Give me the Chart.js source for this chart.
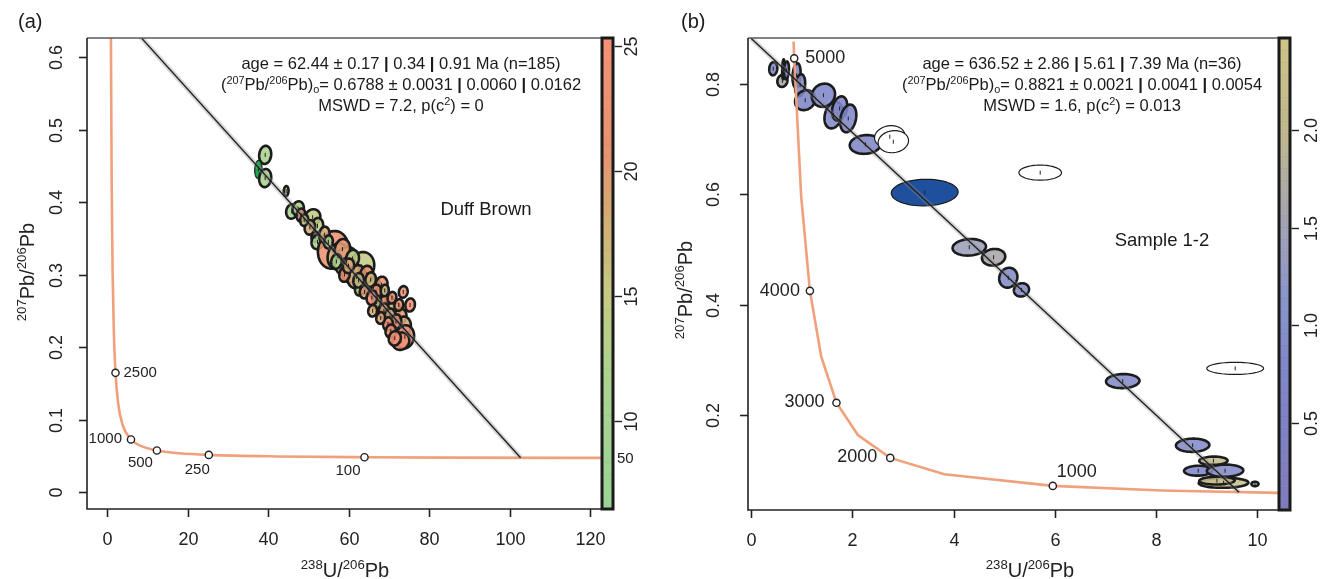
<!DOCTYPE html>
<html>
<head>
<meta charset="utf-8">
<script src="https://cdn.jsdelivr.net/npm/chart.js@4.4.0/dist/chart.umd.min.js"></script>
<style>
  body { margin: 0; background: #fff; }
  #wrap { position: relative; width: 1336px; height: 579px; }
  canvas { position: absolute; top: 0; }
</style>
</head>
<body>
<div id="wrap">
  <canvas id="left" width="668" height="579" style="left:0"></canvas>
  <canvas id="right" width="668" height="579" style="left:668px"></canvas>
</div>
<script>
// ---------- panel (a): Duff Brown ----------
const aConcX = [0.960, 1.163, 1.387, 1.687, 2.111, 2.749, 3.817, 5.959, 8.105, 12.40, 17.92, 25.29, 42.48, 63.97, 85.46, 128.4];
const aConcY = [0.6396, 0.4252, 0.3060, 0.2228, 0.1644, 0.1231, 0.0937, 0.0725, 0.0643, 0.0573, 0.0535, 0.0512, 0.0491, 0.0480, 0.0475, 0.0470];
const aAgeLabels = ['2500', '1000', '500', '250', '100'];
const aAgeX = [2.111, 5.959, 12.40, 25.29, 63.97];
const aAgeY = [0.1644, 0.0725, 0.0573, 0.0512, 0.0480];
const aEdgeLabel = '50';
const aEdgeY = 0.0470;
const aDiscX = [0, 102.75];
const aDiscY = [0.6788, 0.04728];

const aX   = [39.3, 37.6, 39.3, 44.5, 45.9, 47.5, 48.2, 51.1, 52.3, 50.4, 51.7, 52.3, 56.2, 57.4, 59.5, 63.3, 60.5, 62.0, 63.7, 66.2, 68.2, 73.6, 75.3, 67.8, 69.5, 71.1, 72.8, 73.6, 72.0, 74.0, 73.0, 58.5, 61.0, 64.5, 65.5, 66.8, 68.8, 70.3, 70.8, 71.8, 69.8, 54.0, 55.0, 49.0, 62.8, 59.0, 67.0, 72.5, 57.0, 60.0, 62.5, 64.0, 65.8, 68.0, 70.5, 71.5, 66.0, 69.0];
const aY   = [0.465, 0.445, 0.433, 0.415, 0.387, 0.391, 0.382, 0.379, 0.367, 0.365, 0.352, 0.345, 0.334, 0.325, 0.318, 0.311, 0.305, 0.297, 0.288, 0.283, 0.286, 0.276, 0.258, 0.269, 0.260, 0.251, 0.242, 0.228, 0.223, 0.214, 0.208, 0.335, 0.322, 0.300, 0.293, 0.276, 0.250, 0.242, 0.268, 0.235, 0.232, 0.355, 0.345, 0.375, 0.280, 0.300, 0.262, 0.258, 0.318, 0.312, 0.292, 0.276, 0.268, 0.240, 0.222, 0.212, 0.250, 0.278];
const aSX  = [1.5, 0.9, 1.5, 0.6, 1.4, 1.4, 1.1, 1.9, 1.4, 1.3, 0.9, 1.5, 3.8, 2.6, 2.9, 3.1, 2.1, 2.3, 2.1, 1.7, 1.5, 1.1, 1.2, 1.7, 1.9, 1.7, 1.6, 1.9, 1.5, 2.3, 2.1, 1.9, 1.6, 1.6, 1.3, 1.4, 1.3, 1.4, 1.1, 1.3, 1.2, 1.3, 1.1, 1.0, 1.2, 1.3, 1.1, 1.1, 1.3, 1.4, 1.3, 1.2, 1.3, 1.1, 1.3, 1.5, 1.1, 1.0];
const aSY  = [0.0125, 0.0125, 0.0125, 0.007, 0.010, 0.010, 0.009, 0.011, 0.011, 0.010, 0.007, 0.010, 0.026, 0.018, 0.020, 0.020, 0.016, 0.016, 0.014, 0.012, 0.011, 0.008, 0.009, 0.012, 0.013, 0.012, 0.011, 0.014, 0.011, 0.016, 0.012, 0.014, 0.012, 0.012, 0.010, 0.010, 0.010, 0.011, 0.008, 0.010, 0.009, 0.011, 0.009, 0.008, 0.009, 0.010, 0.009, 0.008, 0.010, 0.010, 0.010, 0.009, 0.010, 0.008, 0.009, 0.010, 0.008, 0.008];
const aRho = [0.1, 0.1, 0.1, 0.1, 0.1, 0.1, 0.1, 0.1, 0.1, 0.1, 0.1, 0.1, 0.1, 0.1, 0.1, 0.1, 0.1, 0.1, 0.1, 0.1, 0.1, 0.1, 0.1, 0.1, 0.1, 0.1, 0.1, 0.1, 0.1, 0.1, 0.1, 0.1, 0.1, 0.1, 0.1, 0.1, 0.1, 0.1, 0.1, 0.1, 0.1, 0.1, 0.1, 0.1, 0.1, 0.1, 0.1, 0.1, 0.1, 0.1, 0.1, 0.1, 0.1, 0.1, 0.1, 0.1, 0.1, 0.1];
const aZ   = [12, 4, 11, 13, 10, 12, 21, 15, 14, 18, 22, 10, 22, 17, 16, 15, 19, 18, 20, 13, 22, 23, 24, 19, 21, 16, 20, 18, 23, 25, 24, 20, 14, 21, 17, 23, 20, 18, 22, 22, 24, 18, 12, 16, 15, 22, 16, 21, 12, 19, 16, 20, 24, 19, 22, 25, 18, 16];

const aXTicks = [0, 20, 40, 60, 80, 100, 120];
const aYTicks = [0, 0.1, 0.2, 0.3, 0.4, 0.5, 0.6];
const aYTickLabels = ['0', '0.1', '0.2', '0.3', '0.4', '0.5', '0.6'];
const aZTicks = [10, 15, 20, 25];
const aZTickLabels = ['10', '15', '20', '25'];
const aText = ['age = 62.44 ± 0.17 | 0.34 | 0.91 Ma (n=185)',
               '(^{207}Pb/^{206}Pb)_{o}= 0.6788 ± 0.0031 | 0.0060 | 0.0162',
               'MSWD = 7.2, p(c^{2}) = 0'];
const aName = 'Duff Brown';

// ---------- panel (b): Sample 1-2 ----------
const bConcX = [0.8411, 0.8533, 0.9903, 1.1630, 1.3870, 1.6874, 2.1109, 2.7492, 3.8171, 5.959, 8.105, 10.45];
const bConcY = [0.8760, 0.8457, 0.5970, 0.4252, 0.3060, 0.2228, 0.1644, 0.1231, 0.0937, 0.0725, 0.0643, 0.0597];
const bAgeLabels = ['5000', '4000', '3000', '2000', '1000'];
const bAgeX = [0.8533, 1.1630, 1.6874, 2.7492, 5.959];
const bAgeY = [0.8457, 0.4252, 0.2228, 0.1231, 0.0725];
const bDiscX = [0, 9.636];
const bDiscY = [0.8821, 0.0610];

const bX   = [0.44, 0.62, 0.64, 0.70, 0.90, 0.97, 1.07, 1.43, 1.63, 1.75, 1.92, 2.26, 2.74, 2.81, 3.43, 5.71, 4.31, 4.79, 5.08, 5.34, 9.56, 7.34, 8.72, 9.13, 8.83, 9.36, 9.33, 9.20, 9.95];
const bY   = [0.827, 0.805, 0.826, 0.824, 0.815, 0.797, 0.770, 0.779, 0.743, 0.755, 0.737, 0.690, 0.704, 0.695, 0.603, 0.639, 0.504, 0.486, 0.449, 0.427, 0.285, 0.262, 0.146, 0.118, 0.100, 0.100, 0.078, 0.082, 0.076];
const bSX  = [0.08, 0.10, 0.025, 0.05, 0.08, 0.10, 0.20, 0.23, 0.18, 0.15, 0.16, 0.31, 0.30, 0.30, 0.66, 0.42, 0.33, 0.23, 0.18, 0.15, 0.56, 0.33, 0.33, 0.28, 0.28, 0.36, 0.49, 0.35, 0.07];
const bSY  = [0.012, 0.011, 0.018, 0.016, 0.022, 0.020, 0.018, 0.021, 0.024, 0.022, 0.025, 0.017, 0.020, 0.020, 0.024, 0.0136, 0.015, 0.015, 0.018, 0.012, 0.011, 0.0127, 0.012, 0.0075, 0.009, 0.011, 0.009, 0.007, 0.004];
const bRho = [0.1, 0.1, 0.2, 0.2, 0.2, 0.2, 0.15, 0.1, 0.25, 0.25, 0.25, 0.1, 0.1, 0.1, 0.05, 0.0, 0.1, 0.1, 0.1, 0.1, 0.0, 0.05, 0.05, 0.05, 0.05, 0.05, 0.05, 0.05, 0.0];
const bZ   = [0.8, 1.6, 1.0, 0.7, 0.8, 0.9, 0.8, 0.8, 0.9, 0.85, 0.8, 0.8, null, null, 0.0, null, 1.4, 1.6, 0.9, 0.9, null, 0.9, 0.9, 2.1, 0.8, 0.9, 2.3, 2.2, 2.2];

const bXTicks = [0, 2, 4, 6, 8, 10];
const bYTicks = [0.2, 0.4, 0.6, 0.8];
const bYTickLabels = ['0.2', '0.4', '0.6', '0.8'];
const bZTicks = [0.5, 1.0, 1.5, 2.0];
const bZTickLabels = ['0.5', '1.0', '1.5', '2.0'];
const bText = ['age = 636.52 ± 2.86 | 5.61 | 7.39 Ma (n=36)',
               '(^{207}Pb/^{206}Pb)_{o}= 0.8821 ± 0.0021 | 0.0041 | 0.0054',
               'MSWD = 1.6, p(c^{2}) = 0.013'];
const bName = 'Sample 1-2';

// ---------- helpers ----------
const FONT = '"Liberation Sans", Arial, Helvetica, sans-serif';
const toXY = (xs, ys) => xs.map((v, i) => ({x: v, y: ys[i]}));

function cmap(stops, v) {
  if (v <= stops[0][0]) return stops[0][1];
  for (let i = 1; i < stops.length; i++) {
    if (v <= stops[i][0]) {
      const f = (v - stops[i-1][0]) / (stops[i][0] - stops[i-1][0]);
      return stops[i-1][1].map((c, k) => Math.round(c + f * (stops[i][1][k] - c)));
    }
  }
  return stops[stops.length - 1][1];
}
const rgb = (c, a) => `rgba(${c[0]},${c[1]},${c[2]},${a})`;

function parse(str) {
  const out = [];
  let i = 0, buf = '';
  while (i < str.length) {
    const c = str[i];
    if ((c === '^' || c === '_') && str[i+1] === '{') {
      if (buf) out.push([buf, 0]);
      buf = '';
      const j = str.indexOf('}', i);
      out.push([str.slice(i + 2, j), c === '^' ? 1 : -1]);
      i = j + 1;
    } else if (c === '|') {
      if (buf) out.push([buf, 0]);
      buf = '';
      out.push(['|', 2]);
      i++;
    } else { buf += c; i++; }
  }
  if (buf) out.push([buf, 0]);
  return out;
}

function fontFor(m, size) {
  if (m === 1 || m === -1) return `${(size * 0.66).toFixed(1)}px ${FONT}`;
  if (m === 2) return `bold ${size}px ${FONT}`;
  return `${size}px ${FONT}`;
}

// draws text with super/subscripts, centred on x, baseline y
function richText(ctx, str, x, y, size) {
  const parts = parse(str);
  ctx.textAlign = 'left';
  ctx.textBaseline = 'alphabetic';
  let w = 0;
  for (const [t, m] of parts) { ctx.font = fontFor(m, size); w += ctx.measureText(t).width; }
  let cx = x - w / 2;
  for (const [t, m] of parts) {
    ctx.font = fontFor(m, size);
    const dy = m === 1 ? -size * 0.38 : m === -1 ? size * 0.2 : 0;
    ctx.fillText(t, cx, y + dy);
    cx += ctx.measureText(t).width;
  }
}

function ellipsePath(ctx, xs, ys, cx, cy, sx, sy, rho) {
  const r = Math.sqrt(1 - rho * rho);
  ctx.beginPath();
  for (let i = 0; i <= 64; i++) {
    const t = i / 64 * 2 * Math.PI;
    const px = xs.getPixelForValue(cx + sx * Math.cos(t));
    const py = ys.getPixelForValue(cy + sy * (rho * Math.cos(t) + r * Math.sin(t)));
    if (i) ctx.lineTo(px, py); else ctx.moveTo(px, py);
  }
  ctx.closePath();
}

function panelPlugin(p) {
  return {
    id: 'panel',
    beforeDatasetsDraw(chart) {
      const {ctx, chartArea: a, scales: {x, y, z}} = chart;
      ctx.save();
      ctx.beginPath();
      ctx.rect(a.left, a.top, a.right - a.left, a.bottom - a.top);
      ctx.clip();
      for (let i = 0; i < p.ex.length; i++) {
        ellipsePath(ctx, x, y, p.ex[i], p.ey[i], p.esx[i], p.esy[i], p.erho[i]);
        const v = p.ez[i];
        if (v === null) {
          ctx.fillStyle = '#fff'; ctx.lineWidth = 1.2;
        } else if (v < z.min) {
          ctx.fillStyle = rgb(p.low, 1); ctx.lineWidth = 1.2;
        } else {
          ctx.fillStyle = rgb(cmap(p.stops, v), 0.88); ctx.lineWidth = 2.6;
        }
        ctx.strokeStyle = '#1c1c1c';
        ctx.fill();
        ctx.stroke();
      }
      ctx.restore();
    },
    afterDraw(chart) {
      const {ctx, chartArea: a, scales: {x, y, z}} = chart;
      ctx.save();
      // frame
      ctx.lineWidth = 1.6;
      ctx.strokeStyle = '#5a5a5a';
      ctx.beginPath(); ctx.moveTo(a.left, a.top); ctx.lineTo(a.right, a.top); ctx.stroke();
      ctx.strokeStyle = '#222';
      ctx.beginPath(); ctx.moveTo(a.left, a.top); ctx.lineTo(a.left, a.bottom); ctx.lineTo(a.right, a.bottom); ctx.stroke();
      ctx.fillStyle = '#222';
      // x ticks
      ctx.font = `18px ${FONT}`;
      ctx.textAlign = 'center'; ctx.textBaseline = 'alphabetic';
      p.xTicks.forEach(v => {
        const px = Math.round(x.getPixelForValue(v)) + 0.5;
        ctx.beginPath(); ctx.moveTo(px, a.bottom); ctx.lineTo(px, a.bottom + 8); ctx.stroke();
        ctx.fillText(String(v), px, a.bottom + 36);
      });
      // y ticks (rotated labels)
      p.yTicks.forEach((v, i) => {
        const py = Math.round(y.getPixelForValue(v)) + 0.5;
        ctx.beginPath(); ctx.moveTo(a.left - 8, py); ctx.lineTo(a.left, py); ctx.stroke();
        ctx.save();
        ctx.translate(a.left - p.yLabOff, py);
        ctx.rotate(-Math.PI / 2);
        ctx.textBaseline = 'middle';
        ctx.fillText(p.yTickLabels[i], 0, 0);
        ctx.restore();
      });
      // colour bar
      const cbL = a.right + 1, cbW = 11;
      const top = z.getPixelForValue(z.max), bot = z.getPixelForValue(z.min);
      const n = 40;
      for (let k = 0; k < n; k++) {
        const v0 = z.min + (z.max - z.min) * k / n, v1 = z.min + (z.max - z.min) * (k + 1) / n;
        const y0 = z.getPixelForValue(v1), y1 = z.getPixelForValue(v0);
        ctx.fillStyle = rgb(cmap(p.stops, (v0 + v1) / 2), 1);
        ctx.fillRect(cbL, y0, cbW, y1 - y0 + 0.5);
        ctx.fillStyle = 'rgba(0,0,0,0.07)';
        ctx.fillRect(cbL, y0, cbW, 0.8);
      }
      ctx.lineWidth = 3; ctx.strokeStyle = '#1a1a1a';
      ctx.strokeRect(cbL, top, cbW, bot - top);
      ctx.lineWidth = 1.4; ctx.strokeStyle = '#222'; ctx.fillStyle = '#222';
      ctx.font = `18px ${FONT}`;
      p.zTicks.forEach((v, i) => {
        const py = Math.round(z.getPixelForValue(v)) + 0.5;
        ctx.beginPath(); ctx.moveTo(cbL + cbW + 1.5, py); ctx.lineTo(cbL + cbW + 9, py); ctx.stroke();
        ctx.save();
        ctx.translate(cbL + cbW + p.zLabOff, py);
        ctx.rotate(-Math.PI / 2);
        ctx.textAlign = 'center'; ctx.textBaseline = 'middle';
        ctx.fillText(p.zTickLabels[i], 0, 0);
        ctx.restore();
      });
      // concordia age labels
      ctx.font = `${p.ageFont}px ${FONT}`;
      ctx.textBaseline = 'middle';
      p.ageLabels.forEach((t, i) => {
        const [dx, dy, al] = p.agePos[i];
        ctx.textAlign = al;
        ctx.fillText(t, x.getPixelForValue(p.ageX[i]) + dx, y.getPixelForValue(p.ageY[i]) + dy);
      });
      if (p.edgeLabel) {
        ctx.textAlign = 'left';
        ctx.fillText(p.edgeLabel, cbL + cbW + 4, y.getPixelForValue(p.edgeY) + 1);
      }
      // statistics text
      ctx.fillStyle = '#1a1a1a';
      p.text.forEach((s, i) => richText(ctx, s, p.textX, a.top + 31 + i * 21, 16.5));
      ctx.font = `18.5px ${FONT}`;
      ctx.textAlign = 'center'; ctx.textBaseline = 'middle';
      ctx.fillText(p.name, p.nameX, p.nameY);
      // panel letter
      ctx.font = `20px ${FONT}`;
      ctx.textAlign = 'left';
      ctx.fillText(p.letter, p.letterX, 22);
      // axis titles
      ctx.fillStyle = '#222';
      richText(ctx, '^{238}U/^{206}Pb', p.xTitleX, 577, 20);
      ctx.save();
      ctx.translate(p.yTitleX, p.yTitleY);
      ctx.rotate(-Math.PI / 2);
      richText(ctx, '^{207}Pb/^{206}Pb', 0, 0, 20);
      ctx.restore();
      ctx.restore();
    }
  };
}

function makePanel(id, p) {
  return new Chart(document.getElementById(id), {
    type: 'scatter',
    data: {
      datasets: [
        { data: toXY(p.ageX, p.ageY), pointRadius: 3.6, pointBackgroundColor: '#fff',
          pointBorderColor: '#222', pointBorderWidth: 1.4, order: 1 },
        { data: toXY(p.ex, p.ey), pointStyle: 'line', rotation: 90, pointRadius: 2,
          pointBorderColor: '#222', pointBorderWidth: 1, order: 2 },
        { data: toXY(p.discX, p.discY), showLine: true, borderColor: '#1c1c1c', borderWidth: 1.3,
          pointRadius: 0, order: 3 },
        { data: toXY(p.discX, p.discY), showLine: true, borderColor: 'rgba(140,140,140,0.35)', borderWidth: 5,
          pointRadius: 0, order: 4 },
        { data: toXY(p.concX, p.concY), showLine: true, borderColor: '#f1a07c', borderWidth: 2.6,
          pointRadius: 0, cubicInterpolationMode: p.smooth ? 'monotone' : 'default', tension: 0, order: 5 }
      ]
    },
    options: {
      responsive: false,
      animation: false,
      layout: { padding: p.pad },
      plugins: { legend: { display: false }, tooltip: { enabled: false } },
      scales: {
        x: { type: 'linear', display: false, min: p.xr[0], max: p.xr[1] },
        y: { type: 'linear', display: false, min: p.yr[0], max: p.yr[1] },
        z: { type: 'linear', display: false, position: 'right', min: p.zr[0], max: p.zr[1] }
      }
    },
    plugins: [panelPlugin(p)]
  });
}

makePanel('left', {
  pad: { left: 87, top: 38, right: 67, bottom: 70 },
  xr: [-4.97, 122.73], yr: [-0.0234, 0.6262], zr: [6.48, 25.32],
  concX: aConcX, concY: aConcY, smooth: true,
  ageLabels: aAgeLabels, ageX: aAgeX, ageY: aAgeY, ageFont: 15,
  agePos: [[8, 0, 'left'], [-9, -1, 'right'], [-4, 12, 'right'], [1, 15, 'right'], [-4, 14, 'right']],
  edgeLabel: aEdgeLabel, edgeY: aEdgeY,
  discX: aDiscX, discY: aDiscY,
  ex: aX, ey: aY, esx: aSX, esy: aSY, erho: aRho, ez: aZ,
  stops: [[6.4, [152, 212, 150]], [12, [172, 210, 142]], [15, [196, 203, 132]], [18, [212, 172, 118]],
          [21, [232, 146, 112]], [25.4, [245, 145, 118]]],
  low: [26, 168, 76],
  xTicks: aXTicks, yTicks: aYTicks, yTickLabels: aYTickLabels, yLabOff: 30,
  zTicks: aZTicks, zTickLabels: aZTickLabels, zLabOff: 19,
  text: aText, textX: 401, name: aName, nameX: 486, nameY: 210,
  letter: '(a)', letterX: 18, xTitleX: 345, yTitleX: 34, yTitleY: 272
});

makePanel('right', {
  pad: { left: 80, top: 38, right: 58, bottom: 69 },
  xr: [-0.059, 10.405], yr: [0.0289, 0.8825], zr: [0.0545, 2.471],
  concX: bConcX, concY: bConcY, smooth: false,
  ageLabels: bAgeLabels, ageX: bAgeX, ageY: bAgeY, ageFont: 18,
  agePos: [[11, 0, 'left'], [-10, 0, 'right'], [-12, -1, 'right'], [-13, -1, 'right'], [4, -14, 'left']],
  edgeLabel: null,
  discX: bDiscX, discY: bDiscY,
  ex: bX, ey: bY, esx: bSX, esy: bSY, erho: bRho, ez: bZ,
  stops: [[0.05, [126, 124, 190]], [0.8, [128, 134, 200]], [1.15, [138, 150, 204]], [1.6, [168, 166, 172]],
          [2.0, [192, 184, 142]], [2.48, [205, 196, 136]]],
  low: [31, 80, 158],
  xTicks: bXTicks, yTicks: bYTicks, yTickLabels: bYTickLabels, yLabOff: 34,
  zTicks: bZTicks, zTickLabels: bZTickLabels, zLabOff: 22,
  text: bText, textX: 414, name: bName, nameX: 494, nameY: 241,
  letter: '(b)', letterX: 13, xTitleX: 362, yTitleX: 24, yTitleY: 290
});
</script>
</body>
</html>
